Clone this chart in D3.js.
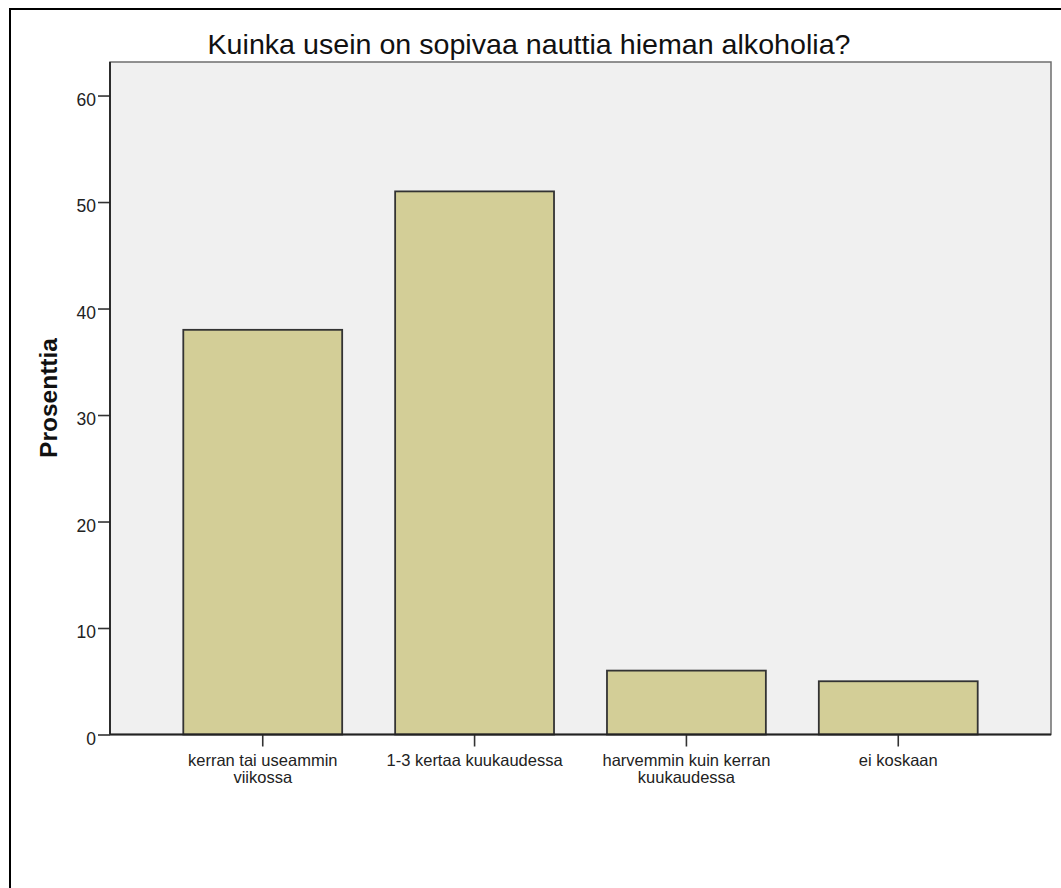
<!DOCTYPE html>
<html><head><meta charset="utf-8">
<script src="https://cdn.jsdelivr.net/npm/d3@7"></script>
<style>html,body{margin:0;padding:0;background:#fff;}svg{display:block;}</style>
</head><body>
<svg id="c" width="1061" height="888"></svg>
<script>
const categories = [
  ["kerran tai useammin", "viikossa"],
  ["1-3 kertaa kuukaudessa"],
  ["harvemmin kuin kerran", "kuukaudessa"],
  ["ei koskaan"]
];
const values = [38, 51, 6, 5];
const yTicks = [0, 10, 20, 30, 40, 50, 60];
const title = "Kuinka usein on sopivaa nauttia hieman alkoholia?";
const yLabel = "Prosenttia";

const svg = d3.select("#c");
const font = "Arial, 'Liberation Sans', sans-serif";
const L = 110, R = 1051, T = 62, B = 734.5;

// outer frame
svg.append("rect").attr("x", 10).attr("y", 9).attr("width", 1100).attr("height", 1000)
  .attr("fill", "none").attr("stroke", "#000").attr("stroke-width", 2);

const x = d3.scaleBand().domain(categories.map((d, i) => i)).range([L, R])
  .paddingInner(0.25).paddingOuter(0.346);
const y = d3.scaleLinear().domain([0, 63.15]).range([B, T]);

// plot background
svg.append("rect").attr("x", L).attr("y", T).attr("width", R - L).attr("height", B - T)
  .attr("fill", "#f0f0f0").attr("stroke", "#6e6e6e").attr("stroke-width", 1.5);

// bars
svg.append("g").selectAll("rect").data(values).join("rect")
  .attr("x", (d, i) => x(i)).attr("y", d => y(d))
  .attr("width", x.bandwidth()).attr("height", d => y(0) - y(d))
  .attr("fill", "#d3ce97").attr("stroke", "#333").attr("stroke-width", 1.8);

// y axis
const ya = svg.append("g").attr("transform", `translate(${L},0)`)
  .call(d3.axisLeft(y).tickValues(yTicks).tickSize(12).tickPadding(2).tickFormat(d3.format("d")));
ya.select(".domain").remove();
ya.selectAll(".tick line").attr("stroke", "#333").attr("stroke-width", 1.6);
ya.selectAll("text").attr("font-family", font).attr("font-size", 17.5).attr("fill", "#222")
  .attr("dy", 9.5);
svg.append("line").attr("x1", L).attr("x2", L).attr("y1", T).attr("y2", B)
  .attr("stroke", "#222").attr("stroke-width", 1.8);

// x axis
const xa = svg.append("g").attr("transform", `translate(0,${B})`)
  .call(d3.axisBottom(x).tickSize(12).tickFormat(""));
xa.select(".domain").remove();
xa.selectAll(".tick line").attr("stroke", "#333").attr("stroke-width", 1.6);
svg.append("line").attr("x1", L).attr("x2", R).attr("y1", B).attr("y2", B)
  .attr("stroke", "#222").attr("stroke-width", 1.8);
xa.selectAll(".tick").each(function(d, i) {
  const g = d3.select(this);
  categories[i].forEach((line, j) => {
    g.append("text").attr("text-anchor", "middle")
      .attr("font-family", font).attr("font-size", 16.5).attr("fill", "#222")
      .attr("x", 0).attr("y", 31.5 + j * 17).text(line);
  });
});

// title
svg.append("text").attr("x", 529).attr("y", 54).attr("text-anchor", "middle")
  .attr("font-family", font).attr("font-size", 27.5).attr("fill", "#111")
  .attr("textLength", 643).attr("lengthAdjust", "spacingAndGlyphs").text(title);

// y label
svg.append("text").attr("transform", `translate(56.5,398) rotate(-90)`)
  .attr("text-anchor", "middle").attr("font-family", font).attr("font-size", 24.5)
  .attr("font-weight", "bold").attr("fill", "#111").text(yLabel);
</script>
</body></html>
